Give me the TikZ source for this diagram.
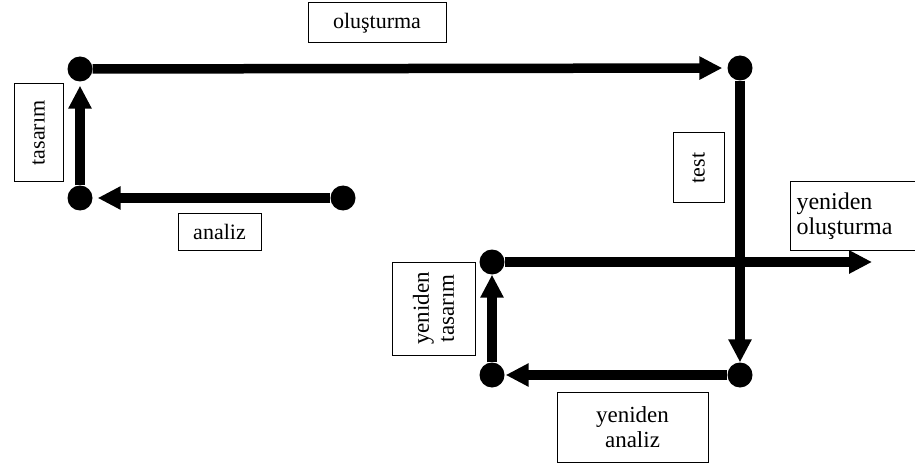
\documentclass[tikz,border=0pt]{standalone}
\usepackage{fontspec}
\setmainfont{Liberation Serif}
\usetikzlibrary{arrows.meta}
\begin{document}
\begin{tikzpicture}[x=1pt,y=-1pt,>={Triangle[length=23pt,width=22pt]},
  dot/.style={circle,fill,inner sep=0pt,minimum size=25pt},
  conn/.style={->,line width=9.5pt},
  lbl/.style={draw,line width=1pt,font=\fontsize{22}{24}\selectfont,align=center,inner sep=0pt}]
\clip(0,0) rectangle (915,465);
\fill[white](0,0) rectangle (915,465);
\foreach \n/\x/\y in {a/80/69,b/740/68,c/80/198,d/343/198,e/492/262,f/492/375,g/740/375}
{
    \node[dot](\n) at (\x,\y){};
}
\coordinate (end) at (872,262);

\draw[conn,shorten >=5pt](a)--(b);
\draw[conn](b)--(g);
\draw[conn,shorten >=1pt](g)--(f);
\draw[conn](f)--(e);
\draw[conn,shorten >=4pt](c)--(a);
\draw[conn,shorten >=5pt](d)--(c);
\draw[conn](e)--(end);

\node[lbl,minimum width=138pt,minimum height=40pt](olus) at (377,23){oluşturma};
\node[lbl,rotate=90,minimum width=98pt,minimum height=49pt](tas) at (38.5,133){tasarım};
\node[lbl,minimum width=83pt,minimum height=37pt](anl) at (219.5,231.5){analiz};
\node[lbl,rotate=90,minimum width=70pt,minimum height=51pt](tst) at (698.5,168){test};
\node[lbl,anchor=west,align=left,text width=128pt,inner xsep=6pt,minimum height=68pt,font=\fontsize{24}{25}\selectfont](yolus) at (790,216){yeniden\\oluşturma};
\node[lbl,rotate=90,minimum width=93pt,minimum height=83pt,font=\fontsize{23}{25}\selectfont](ytas) at (433.5,308.5){yeniden\\tasarım};
\node[lbl,minimum width=151pt,minimum height=70pt,font=\fontsize{23}{25}\selectfont](yanl) at (632.5,427){yeniden\\analiz};
\end{tikzpicture}
\end{document}
